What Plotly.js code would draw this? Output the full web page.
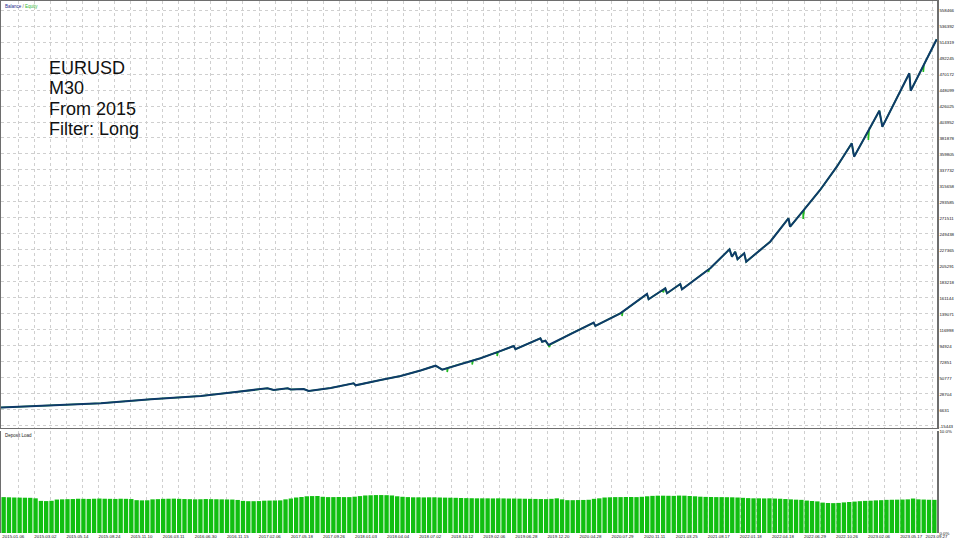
<!DOCTYPE html>
<html>
<head>
<meta charset="utf-8">
<script src="https://cdn.plot.ly/plotly-3.0.1.min.js"></script>
<style>html,body{margin:0;padding:0;background:#fff;}#chart{width:960px;height:540px;}</style>
</head>
<body>
<div id="chart"></div>
<script>
// ---- data ----
const balanceDeal = [0,50,100,150,200,235,266.7,273,287,290,303,308,330,353,355,380,400,420,435,441.7,460,480,497,513.3,515,540,541.7,545,548.3,570,593.3,595,620,646.7,648.3,665,666.7,680,681.7,710,729.3,731.7,735,737.3,744,746,770,788.3,790,805,820,836.7,851.7,854,868,879.3,882.3,896,909.3,910.7,924,936.7];
const balance = [10000,12421,15869,21388,25940,31459,36563,34218,36563,34908,35598,32838,36977,43461,40702,48014,53532,61120,67742,62224,70088,77951,86460,94920,90368,105543,100853,102233,96300,111476,127065,122512,140033,166660,159348,174523,167625,180456,173144,202115,228328,218119,225017,214532,222809,211221,238813,271095,259507,284759,310138,342283,374565,356079,391300,419540,397467,434854,471137,447132,483416,518044];

const equityDeal = [0,50,100,150,200,235,266.7,273,287,290,303,308,330,353,355,380,400,420,435,441.7,446.7,446.7,447.5,460,471.7,471.7,472.5,480,496.7,496.7,497.5,513.3,515,540,541.7,545,548.3,549,550,570,593.3,595,620,621.7,621.7,622.5,646.7,648.3,663,663,664,665,666.7,680,681.7,708.3,708.3,709,710,729.3,731.7,735,737.3,744,746,770,788.3,790,803,803,804,820,836.7,851.7,854,868.3,868.3,869,879.3,882.3,896,909.3,910.7,923.3,923.3,924,936.7];
const equity = [10000,12421,15869,21388,25940,31459,36563,34218,36563,34908,35598,32838,36977,43461,40702,48014,53532,61120,67742,62224,64400,59051,64700,70088,74600,69398,74900,77951,86460,81124,86500,94920,90368,105543,100853,102233,96300,93541,96900,111476,127065,122512,140033,141700,136308,142200,166660,159348,172700,168729,173600,174523,167625,180456,173144,200500,197011,201200,202115,228328,218119,225017,214532,222809,211221,238813,271095,259507,281400,270130,283100,310138,342283,374565,356079,391700,379118,393000,419540,397467,434854,471137,447132,481500,472931,483416,518044];

const depositLoad = [
3.52,3.50,3.48,3.47,3.46,3.45,3.40,3.15,3.13,3.16,
3.28,3.30,3.32,3.33,3.36,3.35,3.34,3.36,3.38,3.36,
3.35,3.34,3.36,3.35,3.33,3.22,3.20,3.21,3.30,3.32,
3.35,3.36,3.37,3.35,3.33,3.32,3.30,3.31,3.33,3.32,
3.31,3.30,3.29,3.28,3.24,3.15,3.12,3.12,3.13,3.17,
3.18,3.19,3.20,3.30,3.38,3.48,3.53,3.60,3.62,3.63,
3.55,3.52,3.52,3.53,3.52,3.52,3.56,3.62,3.68,3.70,
3.72,3.72,3.71,3.68,3.60,3.55,3.52,3.50,3.50,3.49,
3.50,3.50,3.48,3.47,3.46,3.45,3.43,3.42,3.41,3.40,
3.40,3.40,3.39,3.40,3.39,3.38,3.38,3.37,3.36,3.35,
3.34,3.33,3.32,3.35,3.40,3.30,3.22,3.22,3.23,3.24,
3.26,3.35,3.40,3.48,3.50,3.52,3.52,3.53,3.53,3.52,
3.55,3.60,3.64,3.66,3.66,3.65,3.64,3.67,3.66,3.63,
3.60,3.56,3.54,3.53,3.52,3.52,3.51,3.50,3.48,3.45,
3.42,3.40,3.40,3.39,3.40,3.38,3.36,3.33,3.30,3.27,
3.25,3.18,3.14,3.10,2.98,2.94,2.93,2.95,3.00,3.04,
3.08,3.12,3.15,3.17,3.20,3.22,3.25,3.26,3.27,3.28,
3.30,3.38,3.30,3.28,3.26,3.25];

const yTickValues = [558466,536392,514319,492245,470172,448099,426025,403952,381878,359805,337732,315658,293585,271511,249438,227365,205291,183218,161144,139071,116998,94924,72851,50777,28704,6631,-15443];
const dateLabels = ['2015.01.06','2015.03.02','2015.05.14','2015.08.24','2015.11.10','2016.03.11','2016.06.30','2016.11.15','2017.02.06','2017.05.18','2017.09.26','2018.01.03','2018.04.04','2018.07.02','2018.10.12','2019.02.06','2019.06.28','2019.12.20','2020.04.28','2020.07.29','2020.11.11','2021.03.25','2021.08.17','2022.01.18','2022.04.18','2022.06.29','2022.10.26','2023.02.06','2023.05.17','2023.09.27'];
const loadTickValues = [0, 10];
const loadTickText = ['0.0%', '10.0%'];
const infoLines = ['EURUSD', 'M30', 'From 2015', 'Filter: Long'];

// ---- layout helpers (axis geometry, not data) ----
const X_MAX = 937;
const labelStep = 32.1, labelStart = 12.3;
const gridStep = 16.05, gridStart = 1.5;
const dateTickVals = dateLabels.map((_, k) => Math.min(labelStart + labelStep * k, X_MAX - 0.5));
const gridVals = [];
for (let k = 1; gridStart + gridStep * k < X_MAX; k++) gridVals.push(gridStart + gridStep * k);
const loadX = depositLoad.map((_, i) => (i + 0.5) * X_MAX / depositLoad.length);

const smallFont = {family: 'Liberation Sans, Arial, sans-serif', size: 4.4, color: '#111'};
const frame = '#6e6e6e';
const gridC = '#cfcfcf';

const traces = [
  {x: [], y: [], type: 'scatter', mode: 'lines', xaxis: 'x3', yaxis: 'y2', hoverinfo: 'skip'},
  {x: equityDeal, y: equity, type: 'scatter', mode: 'lines', xaxis: 'x', yaxis: 'y',
   line: {color: '#22bb22', width: 1.6}, hoverinfo: 'skip'},
  {x: balanceDeal, y: balance, type: 'scatter', mode: 'lines', xaxis: 'x', yaxis: 'y',
   line: {color: '#0f3a6a', width: 2}, hoverinfo: 'skip'},
  {x: loadX, y: depositLoad, type: 'bar', xaxis: 'x2', yaxis: 'y2',
   marker: {color: '#11bf11', line: {width: 0}}, hoverinfo: 'skip'}
];

const yMainRange = [-18202, 570882];

const annotations = [
  {xref: 'paper', yref: 'paper', x: 0.002, y: 0.999, xanchor: 'left', yanchor: 'top', showarrow: false,
   text: '<span style="color:#1b2b8c">Balance</span><span style="color:#555"> / </span><span style="color:#33b833">Equity</span>',
   font: {family: 'Liberation Sans, Arial, sans-serif', size: 4.5}},
  {xref: 'paper', yref: 'paper', x: 0.002, y: 0.1925, xanchor: 'left', yanchor: 'top', showarrow: false,
   text: 'Deposit Load', font: {family: 'Liberation Sans, Arial, sans-serif', size: 4.5, color: '#222'}}
];
// line centres at ~67.7, 88.2, 108.7, 129.2 px from the top of a 532 px plot
const infoY = [0.8746, 0.8361, 0.7975, 0.7590];
infoLines.forEach((t, i) => annotations.push({
  xref: 'paper', yref: 'paper', x: 0.0505, y: infoY[i], xanchor: 'left', yanchor: 'middle',
  showarrow: false, text: t, borderpad: 0,
  font: {family: 'Liberation Sans, Arial, sans-serif', size: 18, color: '#111'}
}));

const layout = {
  width: 960, height: 540,
  margin: {l: 1, r: 23, t: 1, b: 7},
  paper_bgcolor: '#fff', plot_bgcolor: '#fff',
  showlegend: false,
  bargap: 0.18,
  xaxis: {domain: [0, 1], range: [0, X_MAX], anchor: 'y',
    tickmode: 'array', tickvals: gridVals, showticklabels: false, ticks: '',
    showgrid: true, gridcolor: gridC, griddash: 'dot', gridwidth: 1, zeroline: false,
    showline: true, mirror: true, linecolor: frame, linewidth: 1.5},
  yaxis: {domain: [0.1974, 1], range: yMainRange, side: 'right', anchor: 'x',
    tickmode: 'array', tickvals: yTickValues, ticktext: yTickValues.map(String),
    ticks: '', tickfont: smallFont, showgrid: true, gridcolor: gridC, griddash: 'dot', gridwidth: 1,
    zeroline: false, showline: true, mirror: true, linecolor: frame, linewidth: 1.5},
  xaxis2: {domain: [0, 1], range: [0, X_MAX], anchor: 'y2',
    tickmode: 'array', tickvals: dateTickVals, ticktext: dateLabels, ticks: '',
    tickfont: smallFont, tickangle: 0, showgrid: false, zeroline: false, showline: false},
  xaxis3: {domain: [0, 1], range: [0, X_MAX], anchor: 'y2', overlaying: 'x2',
    tickmode: 'array', tickvals: gridVals, showticklabels: false, ticks: '',
    showgrid: true, gridcolor: gridC, griddash: 'dot', gridwidth: 1, zeroline: false, showline: false},
  yaxis2: {domain: [0, 0.1917], range: [0, 10], side: 'right', anchor: 'x2',
    tickmode: 'array', tickvals: loadTickValues, ticktext: loadTickText, ticks: '',
    tickfont: smallFont, showgrid: false, zeroline: false,
    showline: true, mirror: true, linecolor: frame, linewidth: 1.5},
  annotations: annotations
};

Plotly.newPlot('chart', traces, layout, {staticPlot: true, displayModeBar: false});
</script>
</body>
</html>
